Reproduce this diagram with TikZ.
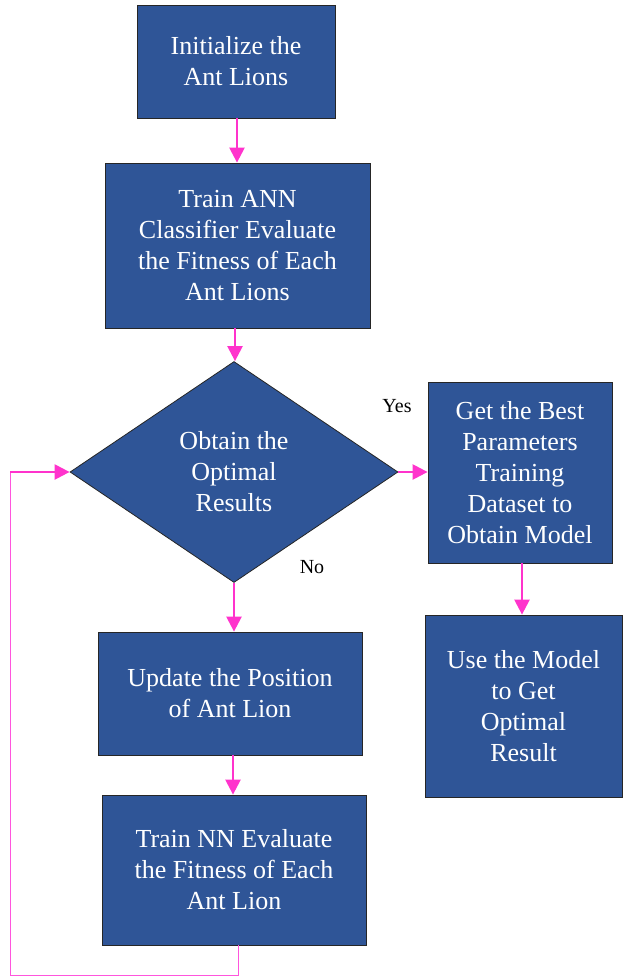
\documentclass[tikz,border=0pt]{standalone}
\usepackage{fontspec}
\setmainfont{Liberation Serif}
\usetikzlibrary{shapes.geometric,arrows.meta}
\definecolor{boxblue}{HTML}{2F5597}
\definecolor{flowpink}{HTML}{FF33CC}
\definecolor{looppink}{HTML}{FF55DD}
\tikzset{
  stepbox/.style={draw=black!85, line width=0.8pt, fill=boxblue, text=white,
    font=\fontsize{26}{31}\selectfont, align=center, inner sep=2pt},
  decision/.style={diamond, draw=black!85, line width=0.8pt, fill=boxblue, text=white,
    font=\fontsize{26}{31}\selectfont, align=center, inner sep=0pt},
  flow/.style={draw=flowpink, line width=2.4pt,
    -{Triangle[length=15pt,width=15pt]}},
  loopline/.style={draw=looppink, line width=1pt},
  branch/.style={font=\fontsize{20}{22}\selectfont, text=black}
}
\begin{document}
\begin{tikzpicture}[x=1pt,y=-1pt]
\useasboundingbox (0,0) rectangle (623,978);

\node[stepbox, minimum width=198pt, minimum height=113pt] (init) at (236,61.5)
  {Initialize the\\Ant Lions};
\node[stepbox, minimum width=265pt, minimum height=165pt] (train) at (237.5,245.5)
  {Train ANN\\Classifier Evaluate\\the Fitness of Each\\Ant Lions};
\node[decision, minimum width=328pt, minimum height=221pt] (opt) at (234,472)
  {Obtain the\\Optimal\\Results};
\node[stepbox, minimum width=184pt, minimum height=181pt] (best) at (520,472.5)
  {Get the Best\\Parameters\\Training\\Dataset to\\Obtain Model};
\node[stepbox, minimum width=197pt, minimum height=182pt] (use) at (523.5,706)
  {Use the Model\\to Get\\Optimal\\Result};
\node[stepbox, minimum width=264pt, minimum height=123pt] (update) at (230,693.5)
  {Update the Position\\of Ant Lion};
\node[stepbox, minimum width=264pt, minimum height=150pt] (trainnn) at (234,870)
  {Train NN Evaluate\\the Fitness of Each\\Ant Lion};

\node[branch] (yes) at (397,406) {Yes};
\node[branch] (no) at (312,567) {No};

\coordinate (c1) at (238,975);
\coordinate (c2) at (10,975);

\draw[flow] (init.south -| 237,0) -- (train.north -| 237,0);
\draw[flow] (train.south -| 235,0) -- (opt.north -| 235,0);
\draw[flow] (opt.east) -- (best.west |- opt.east);
\draw[flow] (best.south -| 522,0) -- (use.north -| 522,0);
\draw[flow] (opt.south) -- (opt.south |- update.north);
\draw[flow] (update.south -| 233,0) -- (trainnn.north -| 233,0);
\draw[loopline] (trainnn.south -| c1) -- (c1) -- (c2) -- (c2 |- opt.west);
\draw[flow] (c2 |- opt.west) -- (opt.west);
\end{tikzpicture}
\end{document}
